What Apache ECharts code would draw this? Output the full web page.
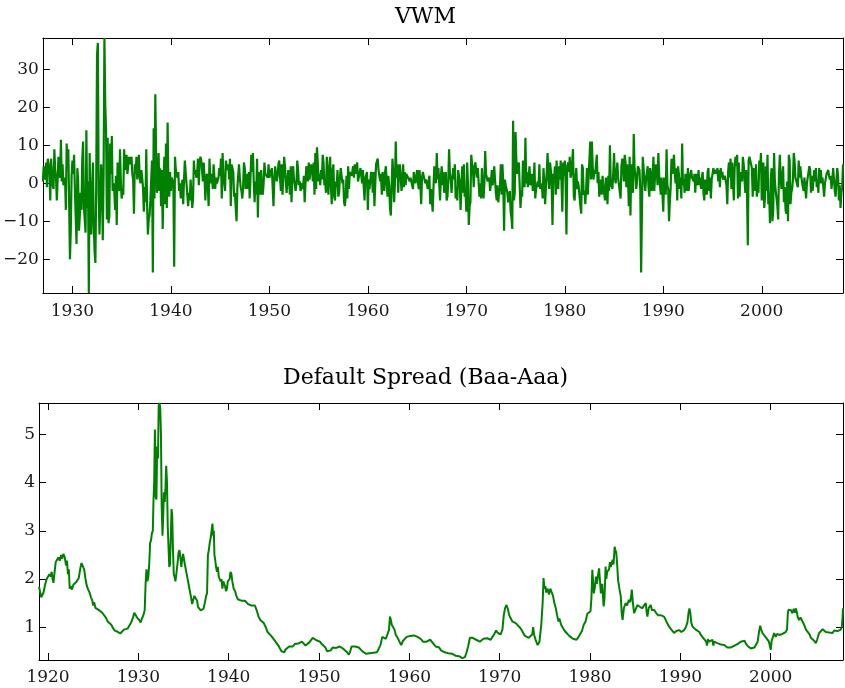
<!DOCTYPE html>
<html><head><meta charset="utf-8">
<script src="https://cdn.jsdelivr.net/npm/echarts@6/dist/echarts.min.js"></script>
<style>html,body{margin:0;padding:0;background:#fff}#c{width:845px;height:688px}</style>
</head><body><div id="c"></div>
<script>
// ---------------- DATA ----------------
// VWM monthly returns (%), Jan 1927 .. Apr 2008
const vwmStartYear = 1927;
const vwm1920s = [
 0.5,4.5,1,2,5.5,-1,6.5,5,4,-4.5,6.5,2.5,
 -0.5,-1.5,9,3.5,1.5,-4.5,1,7,2.5,1.5,11.5,0.5,
 5,-0.5,-1,1.5,-7,10.5,4.5,9,-5,-20,-12.5,2];
const vwm1930s = [
 6,2.5,7.5,-1.5,-1,-16,4,0.5,-12.5,-8.5,-2.5,-7,
 6.5,11,-6.5,-9.5,-13,14,-6.5,0.5,-28.9,8,-9,-13.5,
 -1,5.5,-11,-18,-21,-0.5,34,37,-3,-13.5,-5,5,
 1,-15,3,38.3,21,13.5,-9.5,12,-10.5,-8.5,10.5,2.5,
 12.5,-2,0,-2,-7,2,-11,5.5,-0.5,-2,9,0.5,
 -4,-2,-3,9,3.5,6.5,7.5,2.5,2.5,7,5,4.5,
 7,2.5,1,-8,5,2.5,7,1,0.5,7.5,1.5,0,
 3.5,1.5,-1,-7.5,-1,-5,9,-5.5,-13.5,-9.5,-8.5,-4.5,
 1,6,-23.5,14.5,-4,23.5,7.5,-2.5,1,8,-2,4,
 -6,3.5,-12,-0.5,7,-5.5,10.5,-6.5,16,-0.5,-3.5,3];
const vwm1940s = [
 -2,1.5,2,0,-22,7,3.5,2.5,1.5,3,-2,0,
 -4,-1.5,1,-5.5,1,6,5.5,0,-0.5,-6,-2.5,-4.5,
 1,-2.5,-6.5,-4,6,2.5,3.5,1.5,2.5,6.5,-0.5,5.5,
 7,6,5.5,0.5,5.5,1.5,-4.5,1.5,2.5,-1,-6,6.5,
 1.5,0,2.5,-1.5,5,5.5,-1.5,1.5,0,0,1.5,4,
 2,6.5,-4,8,1.5,0,-2,6,4.5,3.5,5,1,
 6.5,-6,5,4,3,-3.5,-2.5,-6.5,-10,-1,-1,5,
 1.5,-1,-2,-4,-1,5.5,4,-1.5,-0.5,2.5,-1.5,3,
 -4,-4.5,7.5,3,8,0,-5,0.5,-3,6.5,-9,3,
 0.5,-3,3.5,-1.5,-3,0,5.5,2.5,3,3,1.5,5];
const vwm1950s = [
 1.5,1.5,1,4,4.5,-6,1,4.5,5,0.5,2,5,
 6,1.5,-2,5,-3,-2.5,7,4.5,0.5,-2.5,0.5,3.5,
 1.5,-3,4.5,-5,3,4.5,1,-0.5,-2,0,6,3.5,
 -0.5,0.5,-2,-2.5,0,-1.5,2,-5,0,4.5,3,0.5,
 5.5,1,3.5,5,3.5,0.5,5.5,-3,8,-1.5,9.5,5.5,
 0.5,2.5,-0.5,3.5,1,7.5,5.5,-0.5,0.5,-2.5,7,1.5,
 -3,4,7,-0.5,-5.5,3.5,5,-3.5,-4.5,0.5,-1,3.5,
 -3.5,-2.5,2,4,4,0,1,-5,-6,-3.5,2,-4,
 4.5,-1.5,3,3,2,3,4.5,1.5,5,2.5,3,5.5,
 0.5,0.5,0,4,2,0,3.5,-1,-4.5,1.5,1.5,3];
const vwm1960s = [
 -7,1,-1.5,-1.5,3,2,-2.5,3,-6,-0.5,5,4.5,
 6.5,3.5,3,0.5,2.5,-3,3,2.5,-2,3,4.5,0,
 -3.5,2,-0.5,-6.5,-8.5,-8,6.5,2,-5,0,11,1.5,
 5,-2.5,3.5,5,2,-2,0,5,-1,3,-0.5,2.5,
 2.5,1.5,1.5,0.5,1.5,1.5,2,-1.5,3,1,0,0.5,
 3.5,0.5,-1.5,3.5,-0.5,-5.5,1.5,3,3,3,0,1,
 0.5,-1.5,-2,2,-5.5,-1.5,-1.5,-7.5,-1,4.5,1,0,
 8,1,4,4.5,-4.5,2,4.5,-0.5,3,-2.5,0.5,3,
 -4.5,-3.5,0.5,9,2.5,1,-2.5,1.5,4,1,5,-4,
 -1,-4.5,3.5,2,0,-7,-7,4.5,-2.5,5,-3.5,-2];
const vwm1970s = [
 -7.5,5.5,0,-11,-6,-5,7.5,5,4,-1,4.5,5.5,
 5,1.5,4,3.5,-3.5,0,-4,4,-0.5,-4,0,8.5,
 2.5,3,0.5,0.5,1.5,-2,0,3.5,-0.5,1,4.5,1,
 -2.5,-4.5,-0.5,-5,-2,-1,5,-3,5,0,-12.5,1,
 -0.5,0,-2.5,-5,-3.5,-2,-7.5,-9,-12,16.5,-4.5,-2.5,
 13.5,6,2.5,4.5,5.5,5,-6.5,-2,-3.5,6,3,-1,
 12,0,3,-1,-1,4.5,-0.5,0,2.5,-2,0,5.5,
 -4,-1.5,-1,0.5,-1,5,-1.5,-1.5,0,-4,4,0.5,
 -5.5,-1,3,8,1.5,-1.5,5.5,3.5,-0.5,-11,2.5,1.5,
 4.5,-3,6,0.5,-1.5,4.5,1,6,0,-7.5,5.5,2];
const vwm1980s = [
 6,0,-13.5,4.5,5.5,3,7,1.5,2.5,2,9,-3.5,
 -4.5,1.5,4,-1.5,0.5,-1,-0.5,-6,-8,5,4,-3,
 -2,-5.5,-1.5,4,-3,-3,-3,11,1,11,4.5,1,
 3.5,2.5,3,7.5,0,3,-3.5,1,1,-3,2,-1,
 -1.5,-4.5,1.5,0.5,-5.5,2,-2,10,0,0,-1.5,2.5,
 8,1.5,0,-0.5,5.5,1.5,-0.5,-1,-4,4.5,6.5,4.5,
 0.5,7.5,5.5,-1,5,1.5,-6,7,-8.5,5,1.5,-2.5,
 13,4,2,-1.5,0.5,4.5,4,3.5,-2,-23.5,-7.5,7,
 4,4.5,-2,1,0.5,4.5,-1,-3.5,4,2,-2,1.5,
 7,-2,2,5,4,-0.5,8,2,-0.5,-3,1.5,1.5];
const vwm1990s = [
 -7.5,1.5,2,-3,9,-0.5,-1.5,-10,-5,-1,6.5,2.5,
 4.5,7.5,2.5,0,4,-4.5,4.5,2.5,-1.5,1.5,-4,10.5,
 -0.5,1,-2.5,2.5,0.5,-2,4,-2,1,1,3.5,1.5,
 1,0.5,2.5,-2.5,2.5,0.5,-0.5,3.5,-0.5,1.5,-1.5,1.5,
 3,-2.5,-4.5,1,1.5,-3,3,4,-2,1.5,-4,1,
 2.5,4,2.5,2.5,3.5,2.5,4,0.5,3.5,-1,4,1.5,
 3,1,1,2,2.5,-0.5,-5.5,3,5.5,1.5,6.5,-1.5,
 5.5,0,-4.5,4.5,7,4.5,7.5,-4,5.5,-3.5,3,1.5,
 0.5,7,5,1,-2.5,3.5,-2.5,-16.3,6,7,6,6,
 4,-3.5,4,4.5,-2,5,-3.5,-1,-2.5,6,3.5,8];
const vwm2000s = [
 -4.5,2.5,5.5,-6.5,-3.5,4.5,-2,7.5,-5.5,-2.5,-10.5,1.5,
 4,-10,-7,8,0.5,-2,-1.5,-6,-9.5,2.5,7.5,1.5,
 -1.5,-2,4.5,-5,-1,-7,-8,0.5,-10,7.5,6,-5.5,
 -2.5,-1.5,1,8,6,1.5,2,2,-1,6,1.5,4.5,
 2,1.5,-1,-2,1.5,2,-4,0,1.5,1.5,4.5,3.5,
 -2.5,2,-2,-2.5,3.5,0.5,4,-1,1,-2.5,4,0,
 3.5,0,1.5,1,-3.5,0,-0.5,2.5,2,3.5,2,1,
 2,-1.5,1,4,3.5,-2,-3.5,1,4,2,-4.5,-0.5,
 -6.5,-2.5,-1,5];

// Default spread (Baa-Aaa, %): [year, value]
const spread1919to1929 = [[1919.0,1.84],[1919.1,1.75],[1919.25,1.62],[1919.35,1.58],[1919.5,1.72],[1919.7,1.9],[1919.85,2.0],[1920.0,2.02],[1920.15,2.1],[1920.3,2.05],[1920.4,2.15],[1920.5,2.0],[1920.6,1.92],[1920.7,2.1],[1920.85,2.35],[1921.0,2.4],[1921.15,2.45],[1921.3,2.38],[1921.45,2.5],[1921.55,2.42],[1921.7,2.52],[1921.85,2.45],[1922.0,2.28],[1922.1,2.38],[1922.2,2.1],[1922.3,2.2],[1922.4,1.8],[1922.5,1.85],[1922.65,1.78],[1922.8,1.88],[1922.95,1.85],[1923.1,1.93],[1923.25,1.92],[1923.4,2.02],[1923.55,2.2],[1923.7,2.33],[1923.85,2.3],[1924.0,2.2],[1924.15,2.0],[1924.3,1.85],[1924.45,1.78],[1924.6,1.72],[1924.75,1.62],[1924.9,1.55],[1925.0,1.45],[1925.1,1.52],[1925.25,1.4],[1925.4,1.38],[1925.6,1.36],[1925.8,1.33],[1926.0,1.3],[1926.2,1.28],[1926.4,1.2],[1926.6,1.12],[1926.8,1.1],[1927.0,1.05],[1927.2,0.98],[1927.4,0.93],[1927.6,0.96],[1927.75,0.9],[1928.0,0.87],[1928.2,0.88],[1928.4,0.95],[1928.6,0.98],[1928.8,0.97],[1929.0,1.0],[1929.2,1.1],[1929.4,1.2],[1929.55,1.3],[1929.7,1.28],[1929.85,1.2]];
const spread1930s = [[1930.0,1.2],[1930.1,1.15],[1930.25,1.1],[1930.4,1.18],[1930.55,1.25],[1930.7,1.35],[1930.8,1.9],[1930.9,2.2],[1931.0,1.95],[1931.1,2.05],[1931.2,2.3],[1931.3,2.75],[1931.4,2.8],[1931.5,2.95],[1931.6,3.0],[1931.67,3.6],[1931.75,4.0],[1931.83,5.1],[1931.92,3.7],[1932.0,3.65],[1932.08,4.75],[1932.17,4.5],[1932.25,5.6],[1932.33,5.65],[1932.42,5.55],[1932.5,5.0],[1932.58,3.5],[1932.67,2.9],[1932.75,3.3],[1932.83,3.8],[1932.92,3.6],[1933.0,3.9],[1933.08,4.35],[1933.17,4.0],[1933.25,3.1],[1933.33,2.7],[1933.42,2.25],[1933.5,2.3],[1933.58,2.8],[1933.67,3.45],[1933.75,3.3],[1933.83,2.6],[1933.92,2.1],[1934.0,2.05],[1934.1,1.95],[1934.2,2.1],[1934.35,2.35],[1934.45,2.55],[1934.55,2.6],[1934.65,2.45],[1934.75,2.25],[1934.85,2.4],[1934.95,2.52],[1935.05,2.5],[1935.15,2.3],[1935.25,2.2],[1935.35,2.1],[1935.5,1.95],[1935.6,1.85],[1935.75,1.7],[1935.85,1.6],[1935.95,1.48],[1936.05,1.55],[1936.2,1.65],[1936.35,1.62],[1936.5,1.55],[1936.6,1.42],[1936.75,1.38],[1936.9,1.35],[1937.05,1.32],[1937.2,1.38],[1937.35,1.5],[1937.5,1.65],[1937.6,1.7],[1937.7,2.5],[1937.8,2.6],[1937.9,2.75],[1938.0,2.85],[1938.1,3.0],[1938.2,3.15],[1938.28,2.9],[1938.35,3.0],[1938.42,2.5],[1938.5,2.4],[1938.6,2.25],[1938.7,2.15],[1938.8,2.25],[1938.9,2.05],[1939.0,2.0],[1939.1,1.95],[1939.2,2.0],[1939.3,1.8],[1939.4,1.95],[1939.5,1.98],[1939.6,1.85],[1939.7,1.75],[1939.8,1.8],[1939.9,1.95]];
const spread1940s = [[1940.0,1.98],[1940.1,2.0],[1940.2,2.15],[1940.3,2.1],[1940.4,1.95],[1940.55,1.8],[1940.7,1.75],[1940.85,1.65],[1941.0,1.58],[1941.2,1.55],[1941.4,1.55],[1941.6,1.57],[1941.8,1.55],[1942.0,1.58],[1942.15,1.48],[1942.3,1.44],[1942.5,1.45],[1942.7,1.47],[1942.9,1.45],[1943.1,1.35],[1943.3,1.22],[1943.5,1.15],[1943.7,1.12],[1943.9,1.08],[1944.1,1.0],[1944.3,0.9],[1944.5,0.86],[1944.7,0.82],[1944.9,0.78],[1945.1,0.72],[1945.3,0.68],[1945.5,0.62],[1945.7,0.55],[1945.85,0.5],[1946.0,0.46],[1946.15,0.48],[1946.3,0.54],[1946.5,0.56],[1946.7,0.6],[1946.9,0.62],[1947.1,0.6],[1947.3,0.65],[1947.5,0.63],[1947.7,0.66],[1947.9,0.65],[1948.1,0.7],[1948.3,0.68],[1948.5,0.62],[1948.7,0.6],[1948.9,0.68],[1949.1,0.72],[1949.3,0.78],[1949.5,0.77],[1949.7,0.73],[1949.9,0.75]];
const spread1950s = [[1950.1,0.7],[1950.3,0.65],[1950.5,0.63],[1950.7,0.58],[1950.9,0.5],[1951.1,0.46],[1951.3,0.52],[1951.5,0.58],[1951.7,0.6],[1951.9,0.57],[1952.1,0.55],[1952.3,0.6],[1952.5,0.57],[1952.7,0.55],[1952.9,0.52],[1953.1,0.48],[1953.3,0.43],[1953.45,0.5],[1953.6,0.6],[1953.8,0.63],[1954.0,0.6],[1954.2,0.62],[1954.4,0.58],[1954.6,0.55],[1954.8,0.5],[1955.0,0.47],[1955.2,0.45],[1955.4,0.47],[1955.6,0.46],[1955.8,0.48],[1956.0,0.47],[1956.2,0.5],[1956.4,0.48],[1956.6,0.55],[1956.8,0.63],[1957.0,0.8],[1957.2,0.78],[1957.4,0.76],[1957.6,0.77],[1957.75,0.95],[1957.85,1.22],[1957.95,1.15],[1958.05,1.05],[1958.2,1.08],[1958.35,0.95],[1958.5,0.84],[1958.7,0.78],[1958.9,0.7],[1959.1,0.63],[1959.3,0.72],[1959.5,0.75],[1959.7,0.8],[1959.9,0.8]];
const spread1960s = [[1960.1,0.82],[1960.3,0.8],[1960.5,0.83],[1960.7,0.82],[1960.9,0.8],[1961.1,0.79],[1961.3,0.75],[1961.5,0.7],[1961.7,0.67],[1961.9,0.7],[1962.1,0.72],[1962.3,0.74],[1962.5,0.7],[1962.7,0.65],[1962.9,0.6],[1963.1,0.62],[1963.3,0.58],[1963.5,0.52],[1963.7,0.49],[1963.9,0.48],[1964.1,0.47],[1964.3,0.46],[1964.5,0.46],[1964.7,0.45],[1964.9,0.43],[1965.1,0.41],[1965.3,0.39],[1965.5,0.4],[1965.7,0.4],[1965.85,0.36],[1966.0,0.33],[1966.15,0.38],[1966.3,0.46],[1966.5,0.6],[1966.7,0.78],[1966.8,0.82],[1967.0,0.78],[1967.2,0.76],[1967.4,0.74],[1967.6,0.78],[1967.8,0.7],[1968.0,0.72],[1968.2,0.76],[1968.4,0.8],[1968.6,0.77],[1968.8,0.74],[1969.0,0.74],[1969.2,0.8],[1969.4,0.86],[1969.6,0.93],[1969.8,0.88],[1969.95,0.84]];
const spread1970s = [[1970.1,0.85],[1970.3,0.95],[1970.45,1.25],[1970.6,1.4],[1970.75,1.46],[1970.9,1.38],[1971.05,1.25],[1971.2,1.19],[1971.4,1.12],[1971.6,1.1],[1971.8,1.08],[1972.0,1.05],[1972.2,1.0],[1972.4,0.95],[1972.6,0.88],[1972.8,0.82],[1973.0,0.8],[1973.2,0.78],[1973.4,0.76],[1973.6,0.85],[1973.7,1.0],[1973.8,0.85],[1974.0,0.72],[1974.2,0.63],[1974.4,0.7],[1974.6,1.05],[1974.75,1.5],[1974.85,2.02],[1974.95,1.8],[1975.05,1.85],[1975.15,1.72],[1975.3,1.8],[1975.45,1.68],[1975.6,1.8],[1975.75,1.79],[1975.9,1.65],[1976.05,1.5],[1976.2,1.4],[1976.35,1.25],[1976.5,1.12],[1976.6,1.18],[1976.8,1.05],[1976.95,1.0],[1977.1,0.95],[1977.3,0.9],[1977.5,0.86],[1977.7,0.82],[1977.9,0.79],[1978.1,0.76],[1978.3,0.73],[1978.5,0.74],[1978.7,0.79],[1978.9,0.82],[1979.1,0.92],[1979.3,1.05],[1979.5,1.12],[1979.7,1.28],[1979.9,1.3]];
const spread1980s = [[1980.05,1.33],[1980.15,1.6],[1980.25,2.19],[1980.35,1.9],[1980.42,1.7],[1980.55,1.85],[1980.65,2.05],[1980.75,1.9],[1980.9,2.1],[1981.0,2.22],[1981.1,1.95],[1981.2,1.7],[1981.35,1.9],[1981.5,1.43],[1981.6,1.6],[1981.72,2.26],[1981.8,2.0],[1981.9,2.15],[1982.0,2.12],[1982.1,2.2],[1982.2,2.35],[1982.3,2.25],[1982.4,2.33],[1982.5,2.4],[1982.6,2.3],[1982.72,2.67],[1982.8,2.6],[1982.9,2.55],[1983.0,2.3],[1983.1,1.98],[1983.25,1.8],[1983.4,1.64],[1983.5,1.3],[1983.6,1.15],[1983.75,1.4],[1983.95,1.5],[1984.1,1.45],[1984.3,1.57],[1984.45,1.52],[1984.55,1.65],[1984.62,1.78],[1984.72,1.55],[1984.87,1.29],[1985.0,1.35],[1985.24,1.46],[1985.4,1.45],[1985.55,1.42],[1985.79,1.39],[1985.95,1.45],[1986.17,1.5],[1986.27,1.3],[1986.35,1.22],[1986.5,1.4],[1986.72,1.46],[1986.85,1.35],[1987.09,1.36],[1987.3,1.3],[1987.5,1.25],[1987.64,1.22],[1987.8,1.25],[1987.95,1.22],[1988.19,1.22],[1988.45,1.12],[1988.75,1.01],[1989.0,0.95],[1989.3,0.88],[1989.55,0.92],[1989.86,0.94]];
const spread1990s = [[1990.1,0.9],[1990.41,0.94],[1990.6,1.0],[1990.78,1.1],[1990.9,1.3],[1991.0,1.39],[1991.1,1.3],[1991.2,1.1],[1991.35,1.01],[1991.55,0.98],[1991.7,0.95],[1991.88,0.94],[1992.1,0.9],[1992.3,0.83],[1992.45,0.81],[1992.65,0.75],[1992.85,0.7],[1992.95,0.62],[1993.05,0.75],[1993.2,0.7],[1993.4,0.72],[1993.55,0.74],[1993.65,0.62],[1993.75,0.7],[1993.95,0.68],[1994.1,0.67],[1994.3,0.7],[1994.5,0.64],[1994.7,0.66],[1994.85,0.63],[1995.0,0.6],[1995.2,0.58],[1995.4,0.56],[1995.6,0.58],[1995.8,0.6],[1996.0,0.62],[1996.15,0.63],[1996.4,0.66],[1996.68,0.7],[1996.9,0.7],[1997.1,0.72],[1997.25,0.66],[1997.5,0.6],[1997.8,0.56],[1998.0,0.57],[1998.2,0.58],[1998.35,0.6],[1998.55,0.7],[1998.7,0.9],[1998.83,1.03],[1998.95,0.95],[1999.08,0.88],[1999.3,0.84],[1999.5,0.78],[1999.63,0.81],[1999.8,0.7],[1999.92,0.6]];
const spread2000s = [[2000.0,0.53],[2000.1,0.72],[2000.25,0.8],[2000.38,0.88],[2000.55,0.8],[2000.7,0.86],[2000.93,0.84],[2001.1,0.82],[2001.3,0.86],[2001.48,0.88],[2001.65,0.9],[2001.8,0.95],[2001.9,1.3],[2001.96,1.36],[2002.1,1.32],[2002.25,1.35],[2002.4,1.29],[2002.55,1.38],[2002.7,1.3],[2002.78,1.39],[2002.9,1.3],[2003.0,1.2],[2003.14,1.15],[2003.3,1.2],[2003.51,1.19],[2003.7,1.05],[2003.9,0.95],[2004.07,0.91],[2004.3,0.85],[2004.45,0.78],[2004.62,0.81],[2004.8,0.72],[2004.99,0.67],[2005.15,0.75],[2005.36,0.88],[2005.55,0.92],[2005.75,0.96],[2005.92,0.98],[2006.1,0.9],[2006.3,0.86],[2006.47,0.89],[2006.65,0.92],[2006.85,0.88],[2007.02,0.93],[2007.2,0.9],[2007.4,0.92],[2007.58,0.88],[2007.75,0.95],[2007.87,1.01],[2007.95,1.2],[2008.0,1.39]];

// Axis ticks / ranges
const vwmYTicks = [-20,-10,0,10,20,30];
const vwmXTicks = [1930,1940,1950,1960,1970,1980,1990,2000];
const spreadYTicks = [1,2,3,4,5];
const spreadXTicks = [1920,1930,1940,1950,1960,1970,1980,1990,2000];
const vwmRange = {xmin:1927, xmax:2008.25, ymin:-28.9, ymax:38.3};
const spreadRange = {xmin:1919, xmax:2008, ymin:0.32, ymax:5.65};
const titles = ['VWM', 'Default Spread (Baa-Aaa)'];

// ---------------- BUILD ----------------
const vwmAll = [].concat(vwm1920s, vwm1930s, vwm1940s, vwm1950s, vwm1960s, vwm1970s, vwm1980s, vwm1990s, vwm2000s);
const vwmData = vwmAll.map((v, i) => [vwmStartYear + i / 12, v]);
const spreadData = [].concat(spread1919to1929, spread1930s, spread1940s, spread1950s, spread1960s, spread1970s, spread1980s, spread1990s, spread2000s);

const FONT = 'DejaVu Serif';
const fmt = v => (v < 0 ? '\u2212' + Math.abs(v) : String(v));

function xAx(grid, r, ticks, pos, showLabel, margin) {
  return {
    type: 'value', gridIndex: grid, position: pos, min: r.xmin, max: r.xmax,
    axisLine: { show: true, onZero: false, lineStyle: { color: '#000', width: 1 } },
    axisTick: { show: true, inside: true, length: 7, customValues: ticks, lineStyle: { color: '#000', width: 1 } },
    axisLabel: { show: showLabel, customValues: ticks, margin: margin, color: '#1a1a1a', fontFamily: FONT, fontSize: 17, formatter: fmt },
    splitLine: { show: false }
  };
}
function yAx(grid, r, ticks, pos, showLabel) {
  return {
    type: 'value', gridIndex: grid, position: pos, min: r.ymin, max: r.ymax,
    axisLine: { show: true, onZero: false, lineStyle: { color: '#000', width: 1 } },
    axisTick: { show: true, inside: true, length: 7, customValues: ticks, lineStyle: { color: '#000', width: 1 } },
    axisLabel: { show: showLabel, customValues: ticks, margin: 4, color: '#1a1a1a', fontFamily: FONT, fontSize: 17, formatter: fmt },
    splitLine: { show: false }
  };
}

const chart = echarts.init(document.getElementById('c'), null, { renderer: 'canvas' });
chart.setOption({
  animation: false,
  backgroundColor: '#fff',
  grid: [
    { left: 39, right: 2, top: 38, height: 255 },
    { left: 39, right: 2, top: 403, height: 257 }
  ],
  xAxis: [
    xAx(0, vwmRange, vwmXTicks, 'bottom', true, 10),
    xAx(0, vwmRange, vwmXTicks, 'top', false, 8),
    xAx(1, spreadRange, spreadXTicks, 'bottom', true, 9),
    xAx(1, spreadRange, spreadXTicks, 'top', false, 8)
  ],
  yAxis: [
    yAx(0, vwmRange, vwmYTicks, 'left', true),
    yAx(0, vwmRange, vwmYTicks, 'right', false),
    yAx(1, spreadRange, spreadYTicks, 'left', true),
    yAx(1, spreadRange, spreadYTicks, 'right', false)
  ],
  graphic: [
    { type: 'text', x: 425.5, y: 17.5, style: { text: titles[0], fill: '#000', font: '22px "DejaVu Serif"', align: 'center', verticalAlign: 'middle' } },
    { type: 'text', x: 425.5, y: 378, style: { text: titles[1], fill: '#000', font: '22px "DejaVu Serif"', align: 'center', verticalAlign: 'middle' } }
  ],
  series: [
    { type: 'line', xAxisIndex: 0, yAxisIndex: 0, data: vwmData, showSymbol: false, symbol: 'none',
      lineStyle: { color: '#008000', width: 2.2 }, clip: true },
    { type: 'line', xAxisIndex: 2, yAxisIndex: 2, data: spreadData, showSymbol: false, symbol: 'none',
      lineStyle: { color: '#008000', width: 2 }, clip: true }
  ]
});
</script>
</body></html>
